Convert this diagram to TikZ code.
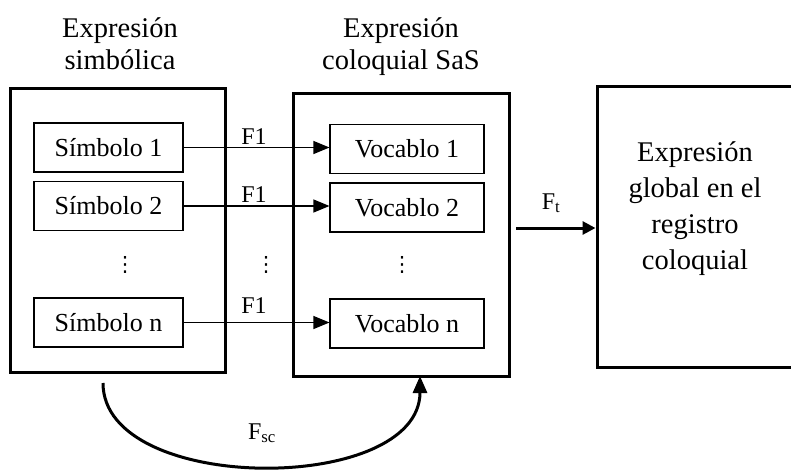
\documentclass[tikz,border=0pt]{standalone}
\usepackage{fontspec}
\setmainfont{Liberation Serif}
\newfontfamily\dotsfont{DejaVu Sans}
\usetikzlibrary{arrows.meta}

\tikzset{
  bigbox/.style={draw, line width=3pt, inner sep=0pt},
  itembox/.style={draw, line width=1.1pt, inner sep=0pt, minimum height=49pt,
    font=\fontsize{26}{30}\selectfont},
  symbox/.style={itembox, minimum width=149pt},
  vocbox/.style={itembox, minimum width=154pt},
  heading/.style={anchor=base, inner sep=0pt, font=\fontsize{28.5}{34}\selectfont},
  flabel/.style={anchor=base, inner sep=0pt, font=\fontsize{24}{30}\selectfont},
  fsmall/.style={anchor=base, inner sep=0pt, font=\fontsize{24}{28}\selectfont},
  maparrow/.style={line width=1.1pt, -{Triangle[length=16pt,width=13pt]}},
  boldarrow/.style={line width=3pt, -{Triangle[length=13pt,width=13pt]}},
  ellip/.style={inner sep=0pt, font=\dotsfont\fontsize{21}{24}\selectfont},
}

\begin{document}
\begin{tikzpicture}[x=1pt,y=-1pt]
  \useasboundingbox (0,0) rectangle (791,469);

  % column headings
  \node[heading] (h1a) at (120,37) {Expresión};
  \node[heading] (h1b) at (120,69) {simbólica};
  \node[heading] (h2a) at (401,37) {Expresión};
  \node[heading] (h2b) at (401,69) {coloquial SaS};

  % outer frames
  \node[bigbox, minimum width=215pt, minimum height=284pt] (left) at (117.5,230) {};
  \node[bigbox, minimum width=216pt, minimum height=283pt] (mid) at (401,234.5) {};
  \node[bigbox, minimum width=203pt, minimum height=281pt] (right) at (698.5,226.5) {};

  % symbols
  \node[symbox] (s1) at (108.5,147.5) {Símbolo 1};
  \node[symbox] (s2) at (108.5,206) {Símbolo 2};
  \node[symbox] (sn) at (108.5,322.5) {Símbolo n};

  % words
  \node[vocbox] (v1) at (407,149) {Vocablo 1};
  \node[vocbox] (v2) at (407,207.5) {Vocablo 2};
  \node[vocbox] (vn) at (407,323.5) {Vocablo n};

  % ellipses
  \node[ellip] (d1) at (125,265) {⋮};
  \node[ellip] (d2) at (266,265) {⋮};
  \node[ellip] (d3) at (402,265) {⋮};

  % symbol-to-word maps
  \draw[maparrow] (s1.east) -- (s1.east -| v1.west);
  \draw[maparrow] (s2.east) -- (s2.east -| v2.west);
  \draw[maparrow] (sn.east) -- (sn.east -| vn.west);
  \node[flabel] (f1a) at (254,144) {F1};
  \node[flabel] (f1b) at (254,202) {F1};
  \node[flabel] (f1c) at (254,313) {F1};

  % global expression
  \node[align=center, inner sep=0pt, font=\fontsize{28.5}{36}\selectfont] (glob) at (695,209)
    {Expresión\\global en el\\registro\\coloquial};

  % translation arrow
  \coordinate (ftstart) at (516,228);
  \draw[boldarrow] (ftstart) -- (ftstart -| right.west);
  \node[fsmall] (ft) at (551,209) {F\textsubscript{t}};

  % symbolic-to-colloquial arc
  \coordinate (fscstart) at (103,383);
  \coordinate (fscend) at (420,376);
  \draw[line width=3pt, -{Triangle[length=17pt,width=14pt]}]
    (fscstart) .. controls (103,495) and (420,495) .. (fscend);
  \node[fsmall] (fsc) at (262,439) {F\textsubscript{sc}};
\end{tikzpicture}
\end{document}
